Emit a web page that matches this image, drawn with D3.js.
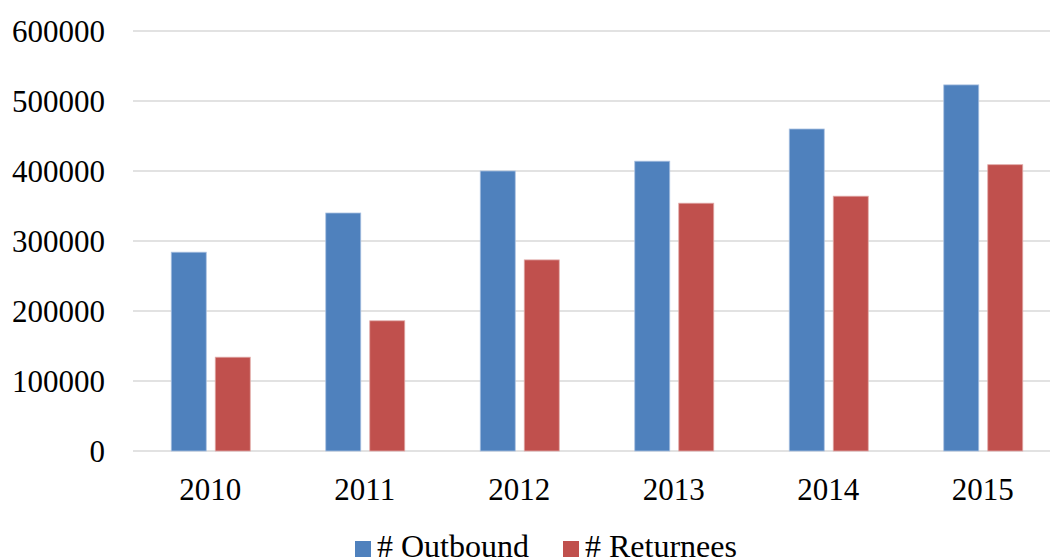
<!DOCTYPE html>
<html>
<head>
<meta charset="utf-8">
<script src="https://cdn.jsdelivr.net/npm/d3@7"></script>
<style>
  body { margin: 0; background: #fff; }
  text { font-family: "Liberation Serif", "Times New Roman", serif; fill: #000; }
</style>
</head>
<body>
<script>
var width = 1050;
var height = 560;

var years = ["2010", "2011", "2012", "2013", "2014", "2015"];
var seriesNames = ["# Outbound", "# Returnees"];
var outbound = [284000, 340000, 400000, 414000, 460000, 523000];
var returnees = [134000, 186000, 273000, 354000, 364000, 409000];
var yTicks = [0, 100000, 200000, 300000, 400000, 500000, 600000];
var colors = ["#4F81BD", "#C0504D"];

var svg = d3.select("body")
  .append("svg")
  .attr("width", width)
  .attr("height", height);

// plot area
var plotLeft = 133, plotRight = 1060, plotTop = 31, plotBottom = 451;

var x = d3.scaleBand()
  .domain(years)
  .range([plotLeft, plotRight]);

// two bars of 35px with a 9px gap inside each year
var x1 = d3.scaleBand()
  .domain(seriesNames)
  .range([x.bandwidth() / 2 - 39, x.bandwidth() / 2 + 40])
  .paddingInner(9 / 44);

var y = d3.scaleLinear()
  .domain([0, 600000])
  .range([plotBottom, plotTop]);

// gridlines
svg.append("g")
  .selectAll("line")
  .data(yTicks)
  .enter()
  .append("line")
  .attr("x1", plotLeft)
  .attr("x2", plotRight)
  .attr("y1", function(d) { return y(d); })
  .attr("y2", function(d) { return y(d); })
  .attr("stroke", "#d9d9d9")
  .attr("stroke-width", 1.5);

// y axis labels
var yAxis = d3.axisLeft(y)
  .tickValues(yTicks)
  .tickFormat(d3.format("d"))
  .tickSize(0)
  .tickPadding(0);

svg.append("g")
  .attr("transform", "translate(105,0)")
  .call(yAxis)
  .call(function(g) { g.select(".domain").remove(); })
  .selectAll("text")
  .attr("font-size", 31)
  .attr("font-family", "Liberation Serif, Times New Roman, serif")
  .attr("dy", "0.34em");

// x axis labels
var xAxis = d3.axisBottom(x)
  .tickSize(0)
  .tickPadding(0);

svg.append("g")
  .attr("transform", "translate(0," + plotBottom + ")")
  .call(xAxis)
  .call(function(g) { g.select(".domain").remove(); })
  .selectAll("text")
  .attr("font-size", 31)
  .attr("font-family", "Liberation Serif, Times New Roman, serif")
  .attr("y", 0)
  .attr("dy", 49);

// bars
var rows = years.map(function(yr, i) {
  return { year: yr, values: [outbound[i], returnees[i]] };
});

var group = svg.selectAll(".year")
  .data(rows)
  .enter()
  .append("g")
  .attr("class", "year")
  .attr("transform", function(d) { return "translate(" + x(d.year) + ",0)"; });

group.selectAll("rect")
  .data(function(d) { return d.values; })
  .enter()
  .append("rect")
  .attr("x", function(d, i) { return x1(seriesNames[i]); })
  .attr("width", x1.bandwidth())
  .attr("y", function(d) { return y(d); })
  .attr("height", function(d) { return y(0) - y(d); })
  .attr("fill", function(d, i) { return colors[i]; })
  .attr("stroke", function(d, i) { return i === 0 ? "#a9c0e0" : "#e0a9a7"; })
  .attr("stroke-width", 0.8);

// legend
var legendX = [355, 563];
var legend = svg.selectAll(".legend")
  .data(seriesNames)
  .enter()
  .append("g")
  .attr("class", "legend")
  .attr("transform", function(d, i) { return "translate(" + legendX[i] + ",541)"; });

legend.append("rect")
  .attr("width", 16)
  .attr("height", 16)
  .attr("fill", function(d, i) { return colors[i]; });

legend.append("text")
  .attr("x", 22)
  .attr("y", 16)
  .attr("font-size", 32)
  .text(function(d) { return d; });
</script>
</body>
</html>
